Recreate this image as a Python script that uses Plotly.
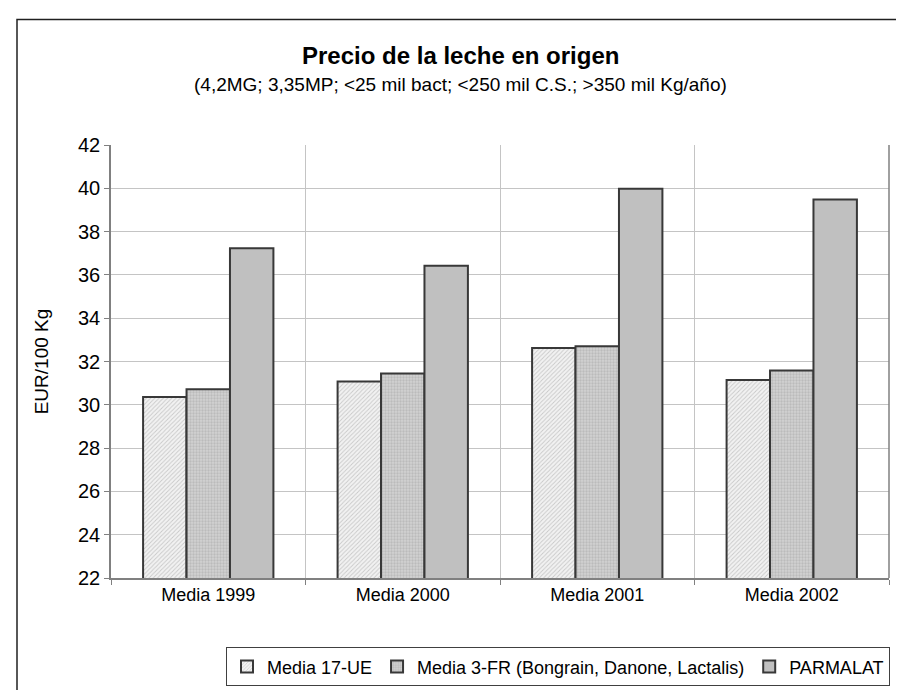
import plotly.graph_objects as go

categories = ["Media 1999", "Media 2000", "Media 2001", "Media 2002"]
series_names = ["Media 17-UE", "Media 3-FR (Bongrain, Danone, Lactalis)", "PARMALAT"]
media_17_ue = [30.36, 31.08, 32.62, 31.15]
media_3_fr = [30.72, 31.45, 32.70, 31.58]
parmalat = [37.23, 36.42, 39.98, 39.48]
y_ticks = [22, 24, 26, 28, 30, 32, 34, 36, 38, 40, 42]

font_family = "Liberation Sans, Arial, sans-serif"
line_col = "#383838"

fig = go.Figure()
fig.add_trace(go.Bar(
    x=categories, y=media_17_ue, name=series_names[0],
    marker=dict(color="#efefef", line=dict(color=line_col, width=2),
                pattern=dict(shape="/", fgcolor="#a0a0a0", bgcolor="#f2f2f2", size=3, solidity=0.3)),
))
fig.add_trace(go.Bar(
    x=categories, y=media_3_fr, name=series_names[1],
    marker=dict(color="#c8c8c8", line=dict(color=line_col, width=2),
                pattern=dict(shape=".", fgcolor="#a4a4a4", bgcolor="#d2d2d2", size=3, solidity=0.45)),
))
fig.add_trace(go.Bar(
    x=categories, y=parmalat, name=series_names[2],
    marker=dict(color="#c0c0c0", line=dict(color=line_col, width=2)),
))

fig.update_layout(
    width=904, height=690,
    margin=dict(l=103, r=23, t=137, b=111),
    paper_bgcolor="white", plot_bgcolor="white",
    barmode="group", bargap=0.33, bargroupgap=0,
    font=dict(family=font_family, color="black", size=18),
    showlegend=True,
    legend=dict(orientation="h", x=(550 - 103) / 778, xanchor="center", y=-0.16, yanchor="top",
                bordercolor="#404040", borderwidth=1, bgcolor="white",
                font=dict(size=18), itemwidth=30, tracegroupgap=0),
)
fig.update_xaxes(
    type="category", tickson="boundaries", ticks="outside", ticklen=5, tickcolor="#808080",
    showgrid=True, gridcolor="#c4c4c4", gridwidth=1,
    showline=True, linecolor="#808080", linewidth=1.5, mirror=False,
    tickfont=dict(size=18),
)
fig.update_yaxes(
    range=[22, 42], tickvals=y_ticks, ticks="outside", ticklen=5, tickcolor="#808080",
    showgrid=True, gridcolor="#c4c4c4", gridwidth=1,
    showline=True, linecolor="#808080", linewidth=1.5,
    tickfont=dict(size=20),
    title=dict(text="EUR/100 Kg", font=dict(size=19), standoff=24),
    zeroline=False,
)
# right plot-area border (Excel style)
fig.add_shape(type="line", xref="paper", yref="paper", x0=1, x1=1, y0=0, y1=1,
              line=dict(color="#808080", width=1.5))
# outer chart frame
fig.add_shape(type="rect", xref="paper", yref="paper",
              x0=(9 - 103) / 778, x1=(910 - 103) / 778,
              y0=(579 - 700) / 442, y1=(579 - 9) / 442,
              line=dict(color="#202020", width=1.5), layer="below")

fig.add_annotation(text="<b>Precio de la leche en origen</b>", xref="paper", yref="paper",
                   x=(452 - 103) / 778, y=(579 - 46) / 442, showarrow=False,
                   font=dict(size=24), xanchor="center", yanchor="middle")
fig.add_annotation(text="(4,2MG; 3,35MP; <25 mil bact; <250 mil C.S.; >350 mil Kg/año)",
                   xref="paper", yref="paper",
                   x=(452 - 103) / 778, y=(579 - 75) / 442, showarrow=False,
                   font=dict(size=19), xanchor="center", yanchor="middle")

fig.write_html("out.html")
